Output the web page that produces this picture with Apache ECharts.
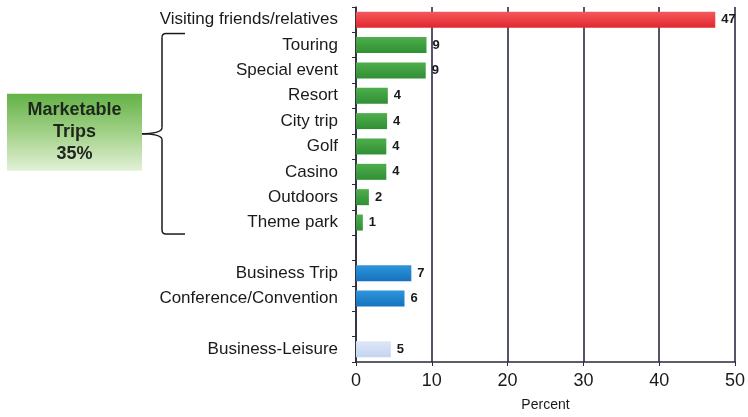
<!DOCTYPE html>
<html>
<head>
<meta charset="utf-8">
<script src="https://cdn.jsdelivr.net/npm/echarts@6/dist/echarts.min.js"></script>
<style>
html,body{margin:0;padding:0;background:#fff;}
#chart{width:748px;height:417px;}
</style>
</head>
<body>
<div id="chart"></div>
<script>
// Categories (blank entries are spacer rows in the original)
const categories = ['Visiting friends/relatives','Touring','Special event','Resort','City trip','Golf','Casino','Outdoors','Theme park','','Business Trip','Conference/Convention',' ','Business-Leisure'];
// Bar lengths (percent)
const barValues = [47.4, 9.3, 9.2, 4.2, 4.1, 4.0, 4.0, 1.7, 0.9, null, 7.3, 6.4, null, 4.6];
// Printed value labels
const valueLabels = ['47','9','9','4','4','4','4','2','1','','7','6','','5'];
// Group of each row: 0 = VFR, 1 = marketable, 2 = business, 3 = business-leisure
const groups = [0,1,1,1,1,1,1,1,1,-1,2,2,-1,3];
const xTicks = [0, 10, 20, 30, 40, 50];
const boxText = ['Marketable', 'Trips', '35%'];

const groupColors = {
  0: ['#f25a5c', '#e2262e'],
  1: ['#4fae4c', '#2f8f33'],
  2: ['#2d95dc', '#1672bd'],
  3: ['#dde8f8', '#c3d4ee']
};
const grad = (c) => new echarts.graphic.LinearGradient(0, 0, 0, 1, [{offset: 0, color: c[0]}, {offset: 1, color: c[1]}]);

const sans = '"Liberation Sans", Arial, sans-serif';
const chart = echarts.init(document.getElementById('chart'));
const option = {
  animation: false,
  grid: {left: 356, right: 13, top: 7, bottom: 55, containLabel: false},
  xAxis: {
    type: 'value', min: xTicks[0], max: xTicks[xTicks.length - 1], interval: 10,
    name: 'Percent', nameLocation: 'middle', nameGap: 36,
    nameTextStyle: {fontFamily: sans, fontSize: 14, color: '#1a1a1a'},
    axisLine: {show: true, lineStyle: {color: '#2a2a3a', width: 1.5}},
    axisTick: {show: true, length: 4, lineStyle: {color: '#2a2a3a'}},
    axisLabel: {fontFamily: sans, fontSize: 18, color: '#1a1a1a', margin: 10},
    splitLine: {show: true, lineStyle: {color: '#1c1c38', width: 1.5}}
  },
  yAxis: {
    type: 'category', inverse: true, data: categories,
    axisLine: {show: true, lineStyle: {color: '#2a2a3a', width: 1.5}},
    axisTick: {show: true, length: 4, inside: false, lineStyle: {color: '#2a2a3a'}},
    axisLabel: {interval: 0, fontFamily: sans, fontSize: 17, color: '#1a1a1a', margin: 18}
  },
  series: [{
    type: 'bar',
    barWidth: 16,
    data: barValues.map((v, i) => v == null ? '-' : {
      value: v,
      itemStyle: {color: grad(groupColors[groups[i]])}
    }),
    label: {
      show: true, position: 'right', distance: 6,
      fontFamily: sans, fontWeight: 'bold', fontSize: 13, color: '#1a1a1a',
      formatter: (p) => valueLabels[p.dataIndex]
    }
  }]
};
chart.setOption(option);

// Brace and "Marketable Trips" box, positioned from the category axis
const yTop = chart.convertToPixel({yAxisIndex: 0}, categories[1]) - 11.5;
const yBot = chart.convertToPixel({yAxisIndex: 0}, categories[8]) + 11.5;
const yMid = (yTop + yBot) / 2;
const bx = 162, hookEnd = 185, tipX = 140;
const stroke = {stroke: '#1a1a1a', lineWidth: 1.5, fill: 'none'};
const braceParts = [
  {type: 'line', shape: {x1: hookEnd, y1: yTop, x2: bx + 4, y2: yTop}, style: stroke},
  {type: 'bezierCurve', shape: {x1: bx + 4, y1: yTop, cpx1: bx, cpy1: yTop, x2: bx, y2: yTop + 4}, style: stroke},
  {type: 'line', shape: {x1: bx, y1: yTop + 4, x2: bx, y2: yMid - 6}, style: stroke},
  {type: 'bezierCurve', shape: {x1: bx, y1: yMid - 6, cpx1: bx, cpy1: yMid, x2: tipX, y2: yMid}, style: stroke},
  {type: 'bezierCurve', shape: {x1: tipX, y1: yMid, cpx1: bx, cpy1: yMid, x2: bx, y2: yMid + 6}, style: stroke},
  {type: 'line', shape: {x1: bx, y1: yMid + 6, x2: bx, y2: yBot - 4}, style: stroke},
  {type: 'bezierCurve', shape: {x1: bx, y1: yBot - 4, cpx1: bx, cpy1: yBot, x2: bx + 4, y2: yBot}, style: stroke},
  {type: 'line', shape: {x1: bx + 4, y1: yBot, x2: hookEnd, y2: yBot}, style: stroke}
];

chart.setOption({
  graphic: braceParts.concat([
    {
      type: 'rect', shape: {x: 7, y: yMid - 40, width: 135, height: 77},
      style: {fill: new echarts.graphic.LinearGradient(0, 0, 0, 1, [
        {offset: 0, color: '#63b247'}, {offset: 0.55, color: '#a8d48e'}, {offset: 1, color: '#e2f1d8'}
      ])}
    },
    {
      type: 'text', x: 74.5, y: yMid - 1.5,
      style: {
        text: boxText.join('\n'), align: 'center', verticalAlign: 'middle',
        fontFamily: sans, fontWeight: 'bold', fontSize: 18,
        lineHeight: 22, fill: '#1e261e'
      }
    }
  ])
});
</script>
</body>
</html>
